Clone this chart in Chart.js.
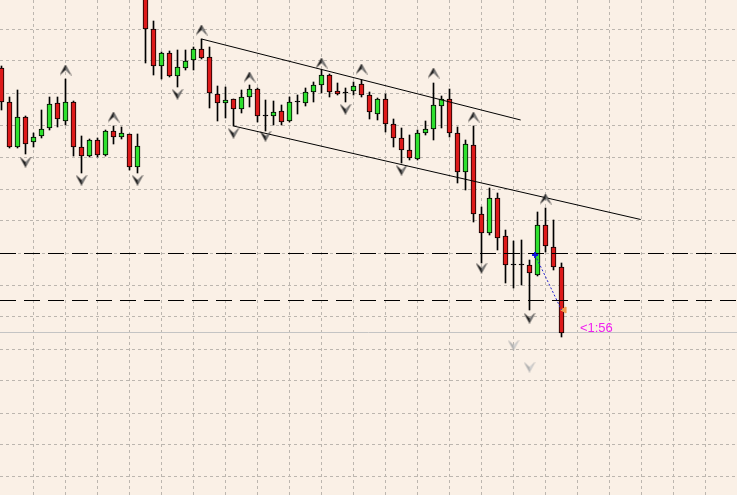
<!DOCTYPE html>
<html>
<head>
<meta charset="utf-8">
<script src="https://cdn.jsdelivr.net/npm/chart.js@4.4.0/dist/chart.umd.min.js"></script>
<style>
  html, body { margin: 0; padding: 0; background: #faf0e6; }
  #wrap { width: 737px; height: 495px; position: relative; }
</style>
</head>
<body>
<div id="wrap"><canvas id="chart"></canvas></div>
<script>
// OHLC per bar (oldest -> newest)
const openP = [1.3432, 1.3398, 1.3353, 1.3383, 1.3358, 1.3364, 1.3372, 1.3397, 1.3379, 1.3398,
  1.3353, 1.3344, 1.3360, 1.3345, 1.3369, 1.3363, 1.3366, 1.3333, 1.3506, 1.3471,
  1.3434, 1.3447, 1.3424, 1.3432, 1.3440, 1.3451, 1.3443, 1.3406, 1.3397, 1.3401,
  1.3391, 1.3403, 1.3411, 1.3384, 1.3384, 1.3389, 1.3379, 1.3398, 1.3397, 1.3408,
  1.3415, 1.3425, 1.3409, 1.3407, 1.3409, 1.3416, 1.3405, 1.3386, 1.3401, 1.3376,
  1.3362, 1.3350, 1.3341, 1.3367, 1.3371, 1.3394, 1.3401, 1.3367, 1.3328, 1.3355,
  1.3286, 1.3267, 1.3302, 1.3264, 1.3235, 1.3235, 1.3235, 1.3225, 1.3275, 1.3253,
  1.3233];
const highP = [1.3434, 1.3403, 1.3410, 1.3384, 1.3367, 1.3390, 1.3403, 1.3403, 1.3421, 1.3399,
  1.3364, 1.3361, 1.3362, 1.3370, 1.3374, 1.3373, 1.3366, 1.3366, 1.3508, 1.3479,
  1.3448, 1.3449, 1.3450, 1.3450, 1.3453, 1.3461, 1.3453, 1.3414, 1.3413, 1.3401,
  1.3410, 1.3415, 1.3412, 1.3400, 1.3399, 1.3395, 1.3403, 1.3405, 1.3412, 1.3418,
  1.3430, 1.3426, 1.3417, 1.3412, 1.3418, 1.3420, 1.3408, 1.3402, 1.3406, 1.3381,
  1.3372, 1.3365, 1.3370, 1.3379, 1.3417, 1.3404, 1.3411, 1.3373, 1.3360, 1.3374,
  1.3293, 1.3312, 1.3307, 1.3270, 1.3259, 1.3260, 1.3240, 1.3288, 1.3292, 1.3280,
  1.3237];
const lowP = [1.3390, 1.3352, 1.3352, 1.3346, 1.3353, 1.3362, 1.3370, 1.3373, 1.3375, 1.3344,
  1.3327, 1.3343, 1.3343, 1.3344, 1.3356, 1.3361, 1.3330, 1.3327, 1.3437, 1.3425,
  1.3421, 1.3423, 1.3413, 1.3430, 1.3430, 1.3441, 1.3392, 1.3379, 1.3382, 1.3374,
  1.3387, 1.3393, 1.3378, 1.3369, 1.3375, 1.3375, 1.3378, 1.3386, 1.3394, 1.3398,
  1.3407, 1.3403, 1.3405, 1.3398, 1.3405, 1.3403, 1.3381, 1.3380, 1.3368, 1.3353,
  1.3337, 1.3340, 1.3340, 1.3365, 1.3360, 1.3372, 1.3363, 1.3317, 1.3310, 1.3278,
  1.3237, 1.3265, 1.3250, 1.3217, 1.3212, 1.3215, 1.3190, 1.3224, 1.3248, 1.3230,
  1.3163];
const closeP = [1.3398, 1.3353, 1.3383, 1.3356, 1.3363, 1.3371, 1.3396, 1.3381, 1.3398, 1.3353,
  1.3344, 1.3360, 1.3345, 1.3369, 1.3363, 1.3367, 1.3333, 1.3354, 1.3471, 1.3434,
  1.3447, 1.3424, 1.3433, 1.3439, 1.3451, 1.3442, 1.3407, 1.3397, 1.3400, 1.3391,
  1.3403, 1.3411, 1.3384, 1.3384, 1.3388, 1.3378, 1.3398, 1.3398, 1.3408, 1.3415,
  1.3425, 1.3408, 1.3406, 1.3407, 1.3414, 1.3405, 1.3388, 1.3401, 1.3376, 1.3362,
  1.3350, 1.3342, 1.3367, 1.3371, 1.3395, 1.3401, 1.3367, 1.3328, 1.3356, 1.3286,
  1.3267, 1.3302, 1.3262, 1.3235, 1.3235, 1.3235, 1.3227, 1.3275, 1.3254, 1.3233,
  1.3167];

// fractal arrows: bar index + price
const upIdx = [8, 14, 25, 31, 40, 45, 54, 59, 68];
const upPrice = [1.3430, 1.3383, 1.3470, 1.3423, 1.3437, 1.3431, 1.3427, 1.3383, 1.3301];
const downIdx = [3, 10, 17, 22, 29, 33, 43, 50, 60, 66];
const downPrice = [1.3338, 1.3320, 1.3320, 1.3406, 1.3367, 1.3364, 1.3391, 1.3330, 1.3232, 1.3182];
const fadedIdx = [64, 66];
const fadedPrice = [1.3155, 1.3133];

// trend channel (bar index, price)
const upperLine = [[25, 1.3461], [64.9, 1.3380]];
const lowerLine = [[29, 1.3374], [79.9, 1.32805]];
// horizontal levels and bid
const levels = [1.32465, 1.31995];
const bidPrice = 1.31675;
// trade arrow (entry -> exit)
const tradeLine = [[66.7, 1.3245], [70.0, 1.3190]];
const exitMark = [70.35, 1.3190];
// bar timer label
const timerText = '<1:56';
const timerAt = [72.3, 1.3172];

// grid ticks
const xGridTicks = [4, 8, 12, 16, 20, 24, 28, 32, 36, 40, 44, 48, 52, 56, 60, 64, 68, 72, 76, 80, 84, 88];
const yGridTicks = [1.3471, 1.3439, 1.3407, 1.3375, 1.3343, 1.3311, 1.3279, 1.3247, 1.3215,
  1.3183, 1.3151, 1.3119, 1.3087, 1.3055, 1.3023];

const xMin = -0.1875, xMax = 91.9375;
const yMin = 1.3005, yMax = 1.35;

const idx = openP.map((_, i) => i);
const bodyColors = idx.map(i => closeP[i] > openP[i] ? '#2ee02e' : (closeP[i] < openP[i] ? '#dd1a1a' : '#000000'));

// fractal arrow glyphs (chevron with a deep notch)
function makeArrow(up, dark, light) {
  const c = document.createElement('canvas');
  c.width = 12; c.height = 11;
  const g = c.getContext('2d');
  if (!up) { g.translate(0, 11); g.scale(1, -1); }
  g.fillStyle = dark;
  g.beginPath();
  g.moveTo(6, 0); g.lineTo(12, 11); g.lineTo(6, 5.5); g.lineTo(0, 11);
  g.closePath(); g.fill();
  g.fillStyle = light;
  g.beginPath();
  g.moveTo(6.3, 1.8); g.lineTo(10.3, 9.2); g.lineTo(6.3, 5.4);
  g.closePath(); g.fill();
  return c;
}
const upImg = makeArrow(true, '#1a1a1a', '#9a9a9a');
const downImg = makeArrow(false, '#1a1a1a', '#9a9a9a');
const fadedImg = makeArrow(false, '#b0b0b0', '#dadada');

const pts = arr => arr.map(p => ({x: p[0], y: p[1]}));

const timerPlugin = {
  id: 'timer',
  afterDatasetsDraw(chart) {
    const {ctx, scales: {x, y}} = chart;
    ctx.save();
    ctx.font = '13px "Liberation Sans", Arial, sans-serif';
    ctx.fillStyle = '#f020f0';
    ctx.textBaseline = 'middle';
    ctx.fillText(timerText, x.getPixelForValue(timerAt[0]), y.getPixelForValue(timerAt[1]));
    ctx.restore();
  }
};

const gridColor = 'rgb(188,182,175)';

new Chart(document.getElementById('chart'), {
  type: 'bar',
  data: {
    datasets: [
      {
        type: 'bar', label: 'wick',
        data: idx.map(i => ({x: i, y: [lowP[i], highP[i]]})),
        backgroundColor: '#000', barThickness: 1, grouped: false, order: 6
      },
      {
        type: 'bar', label: 'body',
        data: idx.map(i => ({x: i, y: [openP[i], closeP[i]]})),
        backgroundColor: bodyColors, borderColor: '#000', borderWidth: 1,
        borderSkipped: false, barThickness: 5, minBarLength: 1, grouped: false, order: 5
      },
      {
        type: 'line', label: 'bid',
        data: [{x: xMin, y: bidPrice}, {x: xMax, y: bidPrice}],
        borderColor: '#c4c4c4', borderWidth: 1, pointRadius: 0, order: 7
      },
      {
        type: 'line', label: 'level1',
        data: [{x: xMin, y: levels[0]}, {x: xMax, y: levels[0]}],
        borderColor: '#000', borderWidth: 1, borderDash: [16, 8], pointRadius: 0, order: 4
      },
      {
        type: 'line', label: 'level2',
        data: [{x: xMin, y: levels[1]}, {x: xMax, y: levels[1]}],
        borderColor: '#000', borderWidth: 1, borderDash: [16, 8], pointRadius: 0, order: 4
      },
      {
        type: 'line', label: 'upper',
        data: pts(upperLine), borderColor: '#000', borderWidth: 1, pointRadius: 0, order: 3
      },
      {
        type: 'line', label: 'lower',
        data: pts(lowerLine), borderColor: '#000', borderWidth: 1, pointRadius: 0, order: 3
      },
      {
        type: 'line', label: 'trade',
        data: pts(tradeLine), borderColor: '#2020d0', borderWidth: 1, borderDash: [2, 2],
        pointStyle: 'cross', pointRadius: [3, 0], pointBorderWidth: 2, pointBorderColor: '#1010e0', order: 2
      },
      {
        type: 'line', label: 'exit', showLine: false,
        data: [{x: exitMark[0], y: exitMark[1]}],
        pointStyle: 'triangle', pointRotation: -90, pointRadius: 3.5,
        backgroundColor: '#f0a050', borderColor: '#f0a050', order: 2
      },
      {
        type: 'line', label: 'fractal up', showLine: false,
        data: upIdx.map((v, i) => ({x: v, y: upPrice[i]})),
        pointStyle: upImg, order: 1
      },
      {
        type: 'line', label: 'fractal down', showLine: false,
        data: downIdx.map((v, i) => ({x: v, y: downPrice[i]})),
        pointStyle: downImg, order: 1
      },
      {
        type: 'line', label: 'fractal faded', showLine: false,
        data: fadedIdx.map((v, i) => ({x: v, y: fadedPrice[i]})),
        pointStyle: fadedImg, order: 1
      }
    ]
  },
  options: {
    responsive: true,
    maintainAspectRatio: false,
    animation: false,
    events: [],
    layout: { padding: 0, autoPadding: false },
    plugins: { legend: { display: false }, tooltip: { enabled: false } },
    scales: {
      x: {
        type: 'linear', min: xMin, max: xMax, offset: false,
        ticks: { display: false },
        grid: { color: gridColor, drawTicks: false, offset: false },
        border: { display: false, dash: [3, 3] },
        afterBuildTicks: s => { s.ticks = xGridTicks.map(v => ({value: v})); }
      },
      y: {
        type: 'linear', min: yMin, max: yMax,
        ticks: { display: false },
        grid: { color: gridColor, drawTicks: false },
        border: { display: false, dash: [3, 3] },
        afterBuildTicks: s => { s.ticks = yGridTicks.map(v => ({value: v})); }
      }
    }
  },
  plugins: [timerPlugin]
});
</script>
</body>
</html>
